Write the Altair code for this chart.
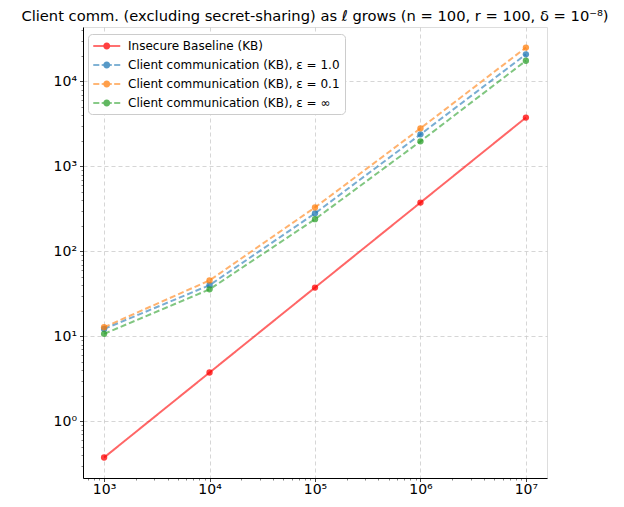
import altair as alt
import pandas as pd

ells = [1e3, 1e4, 1e5, 1e6, 1e7]
series_names = [
    "Insecure Baseline (KB)",
    "Client communication (KB), ε = 1.0",
    "Client communication (KB), ε = 0.1",
    "Client communication (KB), ε = ∞",
]
insecure = [0.375, 3.75, 37.5, 375, 3750]
eps_1 = [12.2, 40.0, 280, 2380, 20800]
eps_01 = [12.8, 45.5, 329, 2800, 25000]
eps_inf = [10.7, 35.7, 239, 1970, 17500]
colors = ["#ff0000", "#1f77b4", "#ff7f0e", "#2ca02c"]
title_text = "Client comm. (excluding secret-sharing) as ℓ grows (n = 100, r = 100, δ = 10⁻⁸)"

rows = []
for name, vals in zip(series_names, [insecure, eps_1, eps_01, eps_inf]):
    for l, v in zip(ells, vals):
        rows.append({"ell": l, "kb": v, "series": name})
df = pd.DataFrame(rows)

x_dom = [10 ** 2.8, 10 ** 7.2]
y_dom = [10 ** -0.667, 10 ** 4.64]

def log_ticks(lo, hi):
    out = []
    for k in range(-2, 9):
        for m in range(1, 10):
            v = m * 10.0 ** k
            if lo <= v <= hi:
                out.append(v)
    return out

major = "abs(log(datum.value)/LN10 - round(log(datum.value)/LN10)) < 1e-6"
sup = "['⁰','¹','²','³','⁴','⁵','⁶','⁷','⁸']"
label_expr = f"{major} ? '10' + {sup}[round(log(datum.value)/LN10)] : ''"

def make_axis(vals, pad):
    return alt.Axis(
        values=vals,
        labelExpr=label_expr,
        labelOverlap=False,
        labelFont="DejaVu Sans",
        labelFontSize=14,
        labelColor="black",
        labelPadding=pad,
        tickSize={"condition": {"test": major, "value": 3.5}, "value": 2},
        tickWidth={"condition": {"test": major, "value": 0.9}, "value": 0.6},
        tickColor="#333",
        grid=True,
        gridDash=[4, 3],
        gridColor="#cccccc",
        gridOpacity={"condition": {"test": major, "value": 0.8}, "value": 0},
        domainColor="black",
        domainWidth=1,
        title=None,
    )

x = alt.X("ell:Q", scale=alt.Scale(type="log", domain=x_dom, nice=False), axis=make_axis(log_ticks(*x_dom), 1))
y = alt.Y("kb:Q", scale=alt.Scale(type="log", domain=y_dom, nice=False), axis=make_axis(log_ticks(*y_dom), 3))

color_scale = alt.Scale(domain=series_names, range=colors)

solid = "M-1,-0.11H3V0.11H-1Z M1.52,0A0.52,0.52 0 1,1 0.48,0A0.52,0.52 0 1,1 1.52,0Z"
dashed = ("M-1,-0.11H-0.1V0.11H-1Z M0.25,-0.11H1.75V0.11H0.25Z M2.1,-0.11H3V0.11H2.1Z "
          "M1.52,0A0.52,0.52 0 1,1 0.48,0A0.52,0.52 0 1,1 1.52,0Z")

lines = alt.Chart(df).mark_line(strokeWidth=2, opacity=0.6).encode(
    x=x, y=y,
    color=alt.Color("series:N", scale=color_scale, legend=None),
    strokeDash=alt.StrokeDash("series:N", scale=alt.Scale(domain=series_names, range=[[1, 0], [6, 3], [6, 3], [6, 3]]), legend=None),
)
points = alt.Chart(df).mark_circle(size=40, opacity=0.75).encode(
    x=x, y=y,
    color=alt.Color("series:N", scale=color_scale, legend=None),
)
legend_layer = alt.Chart(df).transform_filter("false").mark_point(filled=True, size=182, opacity=0.75, strokeWidth=0).encode(
    x=x, y=y,
    color=alt.Color("series:N", scale=color_scale, legend=alt.Legend(
        title=None, orient="none", legendX=5, legendY=7, padding=5,
        labelFont="DejaVu Sans", labelFontSize=12, labelColor="black", labelLimit=400,
        labelOffset=21, rowPadding=6, symbolSize=182, symbolStrokeWidth=0,
        strokeColor="#cccccc", fillColor="white", cornerRadius=4,
    )),
    shape=alt.Shape("series:N", scale=alt.Scale(domain=series_names, range=[solid, dashed, dashed, dashed]),
                    legend=alt.Legend(title=None, orient="none", legendX=5, legendY=7, labelLimit=400)),
)

chart = alt.layer(lines, points, legend_layer).resolve_legend(
    color="independent", shape="independent", strokeDash="independent"
).properties(
    width=464, height=451,
    title=alt.TitleParams(title_text, font="DejaVu Sans", fontSize=14.7, fontWeight="normal", color="black",
                          anchor="middle", offset=0, limit=700),
    autosize=alt.AutoSizeParams(type="none"),
    padding={"left": 75, "top": 19, "right": 69, "bottom": 21},
).configure_view(stroke="black", strokeWidth=1).configure(background="white")

chart.save("out.html", embed_options={"renderer": "svg", "actions": False})
